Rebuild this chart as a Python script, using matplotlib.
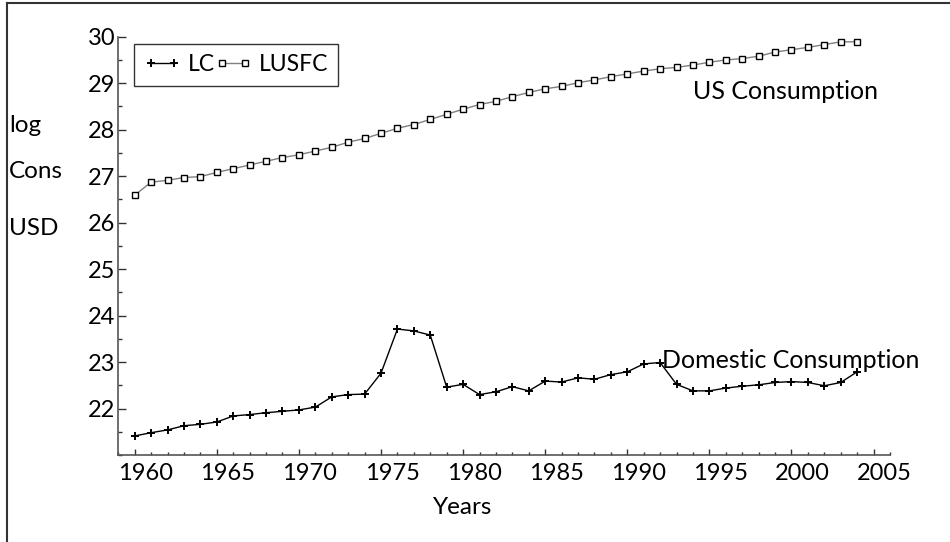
import matplotlib.pyplot as plt
import matplotlib.transforms as mtransforms
from matplotlib.lines import Line2D
from matplotlib.ticker import MultipleLocator

years = list(range(1960, 2005))

# log of domestic consumption (LC)
lc = [21.41, 21.48, 21.54, 21.63, 21.66, 21.71, 21.84, 21.87, 21.91, 21.94,
      21.97, 22.03, 22.25, 22.30, 22.31, 22.76, 23.71, 23.67, 23.58, 22.46,
      22.52, 22.30, 22.36, 22.47, 22.38, 22.59, 22.57, 22.66, 22.63, 22.73,
      22.79, 22.96, 22.99, 22.52, 22.38, 22.38, 22.44, 22.48, 22.51, 22.56,
      22.58, 22.56, 22.49, 22.56, 22.79]

# log of US consumption (LUSFC)
lusfc = [26.59, 26.87, 26.91, 26.97, 26.99, 27.08, 27.16, 27.24, 27.32, 27.40,
         27.46, 27.54, 27.62, 27.73, 27.81, 27.92, 28.03, 28.11, 28.22, 28.33,
         28.44, 28.54, 28.61, 28.71, 28.80, 28.88, 28.93, 29.01, 29.07, 29.14,
         29.20, 29.26, 29.31, 29.34, 29.39, 29.45, 29.50, 29.53, 29.58, 29.67,
         29.72, 29.77, 29.83, 29.89, 29.89]

plt.rcParams['font.family'] = ['Lato', 'DejaVu Sans']
W, H = 950, 542

fig = plt.figure(figsize=(9.5, 5.42), dpi=100)
ax = fig.add_axes([118.3 / W, 1 - 455 / H, (890 - 118.3) / W, (455 - 36.7) / H])

ax.plot(years, lc, color='black', lw=1.0, marker='+', ms=6, mew=1.4, label='LC')
ax.plot(years, lusfc, color='#808080', lw=1.0, marker='s', ms=4.8, mew=1.0,
        mec='black', mfc='white', label='LUSFC')

ax.set_xlim(1959, 2006)
ax.set_ylim(21, 30)
ax.set_xticks(range(1960, 2006, 5))
ax.xaxis.set_minor_locator(MultipleLocator(1))
ax.set_yticks(range(22, 31))
ax.yaxis.set_minor_locator(MultipleLocator(0.5))

for side in ['top', 'right']:
    ax.spines[side].set_visible(False)
for side in ['left', 'bottom']:
    ax.spines[side].set_color('#555555')
    ax.spines[side].set_linewidth(1.2)

ax.tick_params(axis='x', which='major', direction='in', length=4.5, width=1,
               color='#333333', labelsize=17, pad=6)
ax.tick_params(axis='x', which='minor', direction='in', length=2.5, width=1,
               color='#333333')
ax.tick_params(axis='y', which='major', direction='in', length=6, width=1,
               color='#333333', labelsize=17, pad=2)
ax.tick_params(axis='y', which='minor', direction='in', length=3, width=1,
               color='#333333')

# year labels sit a little right of their ticks in the original
shift = mtransforms.ScaledTranslation(0.11, 0, fig.dpi_scale_trans)
for lab in ax.get_xticklabels():
    lab.set_transform(lab.get_transform() + shift)

leg = ax.legend(loc='upper left', bbox_to_anchor=(134 / W, 1 - 44 / H),
                bbox_transform=fig.transFigure, ncol=2, fontsize=16.5,
                frameon=True, fancybox=False, numpoints=2, handlelength=1.6,
                handletextpad=0.3, columnspacing=0.0, borderpad=0.45,
                borderaxespad=0)
leg.get_frame().set_edgecolor('black')
leg.get_frame().set_linewidth(1.0)

# annotations
fig.text(693 / W, 1 - 91 / H, 'US Consumption', fontsize=18, va='center', ha='left')
fig.text(662 / W, 1 - 360 / H, 'Domestic Consumption', fontsize=18, va='center', ha='left')
fig.text(463 / W, 1 - 507 / H, 'Years', fontsize=17.5, va='center', ha='center')
fig.text(9 / W, 1 - 125 / H, 'log', fontsize=17.5, va='center', ha='left')
fig.text(9 / W, 1 - 172 / H, 'Cons', fontsize=17.5, va='center', ha='left')
fig.text(9 / W, 1 - 229 / H, 'USD', fontsize=17.5, va='center', ha='left')

# frame around the picture (top and left edges)
fig.add_artist(Line2D([7 / W, 7 / W], [0, 1 - 2.5 / H], transform=fig.transFigure,
                      color='#333333', lw=1.5))
fig.add_artist(Line2D([7 / W, 1], [1 - 2.5 / H, 1 - 2.5 / H], transform=fig.transFigure,
                      color='#333333', lw=1.5))

fig.savefig('out.png', dpi=100)
